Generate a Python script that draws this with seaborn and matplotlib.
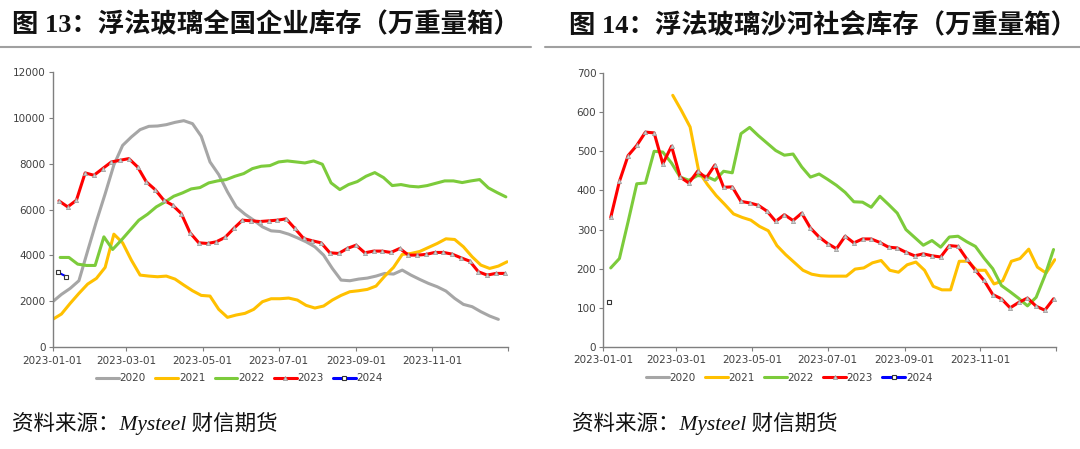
import pandas as pd
import matplotlib
matplotlib.use("Agg")
import matplotlib.pyplot as plt
from matplotlib.lines import Line2D
import seaborn as sns

# 图13 全国企业库存（万重量箱），周度
nat_2020 = [1985, 2304, 2565, 2900, 4200, 5480, 6680, 7940, 8790, 9158, 9477, 9621,
            9636, 9694, 9795, 9868, 9737, 9187, 8071, 7520, 6767, 6115, 5796, 5535,
            5245, 5071, 5042, 4927, 4767, 4593, 4376, 4014, 3434, 2927, 2898, 2970,
            3014, 3101, 3217, 3188, 3362, 3144, 2956, 2782, 2637, 2449, 2130, 1869,
            1768, 1550, 1362, 1217]
nat_2021 = [1217, 1449, 1913, 2347, 2753, 3000, 3478, 4927, 4550, 3796, 3144, 3101,
            3072, 3101, 2970, 2710, 2463, 2260, 2231, 1652, 1304, 1406, 1478, 1652,
            1985, 2115, 2115, 2144, 2057, 1826, 1710, 1797, 2057, 2260, 2420, 2463,
            2521, 2666, 3101, 3478, 4043, 4086, 4173, 4347, 4521, 4724, 4695, 4376,
            3941, 3579, 3434, 3536, 3724]
nat_2022 = [3912, 3912, 3622, 3564, 3564, 4810, 4260, 4666, 5100, 5535, 5796, 6115,
            6332, 6578, 6723, 6897, 6955, 7158, 7245, 7303, 7448, 7564, 7781, 7883,
            7911, 8071, 8114, 8071, 8027, 8114, 7970, 7158, 6868, 7086, 7216, 7448,
            7607, 7390, 7042, 7086, 7013, 6984, 7042, 7144, 7245, 7245, 7173, 7245,
            7303, 6941, 6738, 6550]
nat_2023 = [6376, 6115, 6405, 7593, 7491, 7781, 8071, 8143, 8216, 7854, 7202, 6868,
            6405, 6187, 5825, 4985, 4550, 4521, 4593, 4782, 5173, 5535, 5506, 5477,
            5506, 5535, 5593, 5173, 4738, 4637, 4550, 4115, 4086, 4304, 4448, 4115,
            4188, 4188, 4130, 4304, 4014, 4014, 4043, 4130, 4130, 4057, 3898, 3753,
            3289, 3144, 3217, 3217]
nat_2024 = [3270, 3080]

# 图14 沙河社会库存（万重量箱），周度
sh_2021 = [643, 604, 562, 448, 415, 387, 364, 340, 331, 324, 308, 297, 259, 236, 216,
           196, 186, 182, 181, 181, 181, 199, 202, 215, 221, 196, 191, 210, 217, 196,
           155, 146, 146, 219, 219, 196, 196, 161, 169, 219, 226, 250, 204, 189, 223]
sh_2022 = [202, 226, 320, 417, 419, 500, 498, 470, 434, 426, 438, 436, 426, 449, 445,
           545, 561, 540, 521, 502, 490, 493, 460, 434, 442, 428, 413, 395, 371, 370,
           357, 385, 364, 342, 300, 280, 260, 272, 255, 281, 283, 269, 257, 227, 200,
           157, 141, 124, 105, 127, 182, 249]
sh_2023 = [331, 423, 489, 515, 549, 547, 468, 513, 434, 419, 449, 432, 465, 408, 409,
           372, 368, 362, 347, 321, 338, 323, 342, 304, 281, 264, 251, 283, 266, 276,
           276, 267, 255, 253, 242, 233, 238, 233, 230, 259, 257, 225, 196, 170, 134,
           123, 100, 114, 125, 104, 94, 123]
sh_2024 = [115]

years = ["2020", "2021", "2022", "2023", "2024"]
colors = {"2020": "#A6A6A6", "2021": "#FFC000", "2022": "#7CCB3B",
          "2023": "#FF0000", "2024": "#0000FF"}

nat_series = {"2020": ("2023-01-01", nat_2020), "2021": ("2023-01-01", nat_2021),
              "2022": ("2023-01-07", nat_2022), "2023": ("2023-01-06", nat_2023),
              "2024": ("2023-01-05", nat_2024)}
sh_series = {"2020": None, "2021": ("2023-02-26", sh_2021),
             "2022": ("2023-01-07", sh_2022), "2023": ("2023-01-07", sh_2023),
             "2024": ("2023-01-06", sh_2024)}

sns.set_theme(style="white")
plt.rcParams["font.family"] = ["DejaVu Sans", "Noto Sans CJK SC"]

fig = plt.figure(figsize=(10.8, 4.49), dpi=100)
ax1 = fig.add_axes([0.0488, 0.2265, 0.4219, 0.6138])
ax2 = fig.add_axes([0.5586, 0.2272, 0.4192, 0.6102])


def line_style(yr):
    kw = dict(color=colors[yr], linewidth=2.2)
    if yr == "2023":
        kw.update(marker="^", markersize=3, markerfacecolor="#D0D0D0",
                  markeredgecolor="#A0A0A0", markeredgewidth=0.6)
    if yr == "2024":
        kw.update(marker="s", markersize=3.2, markerfacecolor="white",
                  markeredgecolor="#333333", markeredgewidth=0.8, linewidth=1.5)
    return kw


def draw_panel(ax, series, ymax, ystep):
    for yr in years:
        item = series[yr]
        if item is None:
            continue
        start, vals = item
        df = pd.DataFrame({"date": pd.date_range(start, periods=len(vals), freq="7D"),
                           "val": vals})
        sns.lineplot(data=df, x="date", y="val", ax=ax, **line_style(yr))

    ax.set_xlim(pd.Timestamp("2023-01-01"), pd.Timestamp("2024-01-01"))
    ax.set_ylim(0, ymax)
    ticks = pd.to_datetime(["2023-01-01", "2023-03-01", "2023-05-01", "2023-07-01",
                            "2023-09-01", "2023-11-01", "2024-01-01"])
    ax.set_xticks(ticks)
    ax.set_xticklabels([t.strftime("%Y-%m-%d") for t in ticks[:-1]] + [""])
    ax.set_yticks(range(0, ymax + 1, ystep))
    ax.set_xlabel("")
    ax.set_ylabel("")
    for s in ["top", "right"]:
        ax.spines[s].set_visible(False)
    for s in ["left", "bottom"]:
        ax.spines[s].set_color("#7F7F7F")
        ax.spines[s].set_linewidth(1.0)
    ax.tick_params(axis="both", direction="out", length=3, width=0.8,
                   color="#7F7F7F", labelsize=7.5, labelcolor="#404040", pad=2)
    ax.tick_params(axis="y", left=True)
    ax.tick_params(axis="x", bottom=True, pad=3)

    handles = [Line2D([], [], **line_style(yr)) for yr in years]
    for h in handles:
        h.set_linewidth(2.2)
    leg = ax.legend(handles, years, loc="center", bbox_to_anchor=(0.41, -0.112),
                    ncol=5, frameon=False, fontsize=7.5, handlelength=2.2,
                    columnspacing=0.9, handletextpad=0.05)
    for t in leg.get_texts():
        t.set_color("#404040")


draw_panel(ax1, nat_series, 12000, 2000)
draw_panel(ax2, sh_series, 700, 100)

title_font = dict(family=["Liberation Serif", "Noto Sans CJK SC"], fontsize=19,
                  fontweight="bold", color="#111111", va="center", ha="left")
fig.text(0.011, 0.945, "图 13：浮法玻璃全国企业库存（万重量箱）", **title_font)
fig.text(0.527, 0.945, "图 14：浮法玻璃沙河社会库存（万重量箱）", **title_font)

# 标题下方的灰色分隔线
fig.add_artist(Line2D([0.0, 0.492], [0.895, 0.895], color="#A0A0A0", linewidth=1.5))
fig.add_artist(Line2D([0.505, 1.0], [0.895, 0.895], color="#A0A0A0", linewidth=1.5))

src_font = dict(family=["Liberation Serif", "Noto Sans CJK SC"], fontsize=15.5,
                style="italic", color="#111111", va="center", ha="left")
fig.text(0.011, 0.056, "资料来源：Mysteel 财信期货", **src_font)
fig.text(0.530, 0.056, "资料来源：Mysteel 财信期货", **src_font)

fig.savefig("out.png", dpi=100, facecolor="white")
